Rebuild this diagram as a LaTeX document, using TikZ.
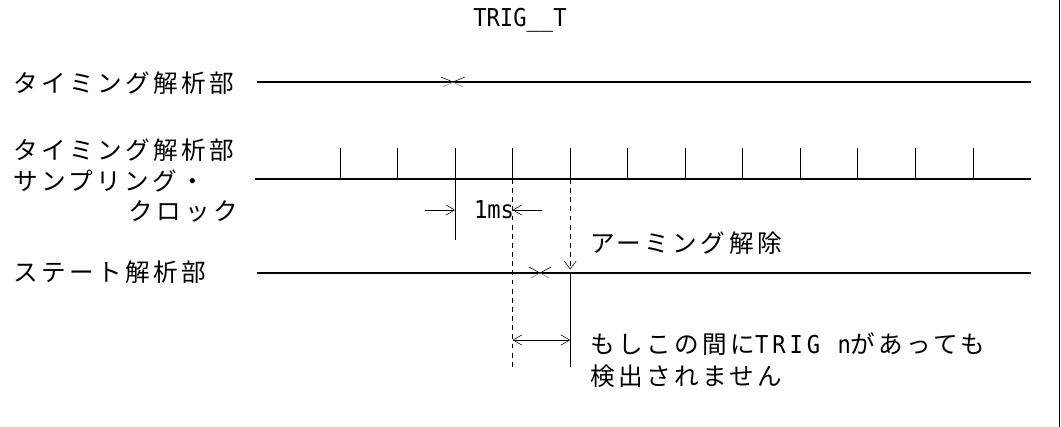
\documentclass[tikz,border=0pt]{standalone}
\usepackage{fontspec}
\newfontfamily\jpfont[LetterSpace=14]{Noto Sans CJK JP}
\newfontfamily\latfont[FakeStretch=0.9]{DejaVu Sans Mono}
\newfontfamily\latwide[FakeStretch=0.9,LetterSpace=16]{DejaVu Sans Mono}
\usetikzlibrary{arrows.meta}

\tikzset{
  sig/.style={line width=1pt},
  lbl/.style={font=\jpfont\fontsize{17.5}{20}\selectfont, inner sep=0pt},
  lat/.style={font=\latfont\fontsize{17.5}{20}\selectfont, inner sep=0pt},
  barb/.style={-{Straight Barb[length=2.2mm,width=2.6mm]}, thin},
  guide/.style={thin, dash pattern=on 3.5pt off 3pt},
}

\begin{document}
\begin{tikzpicture}[x=0.025cm,y=-0.025cm]
  \useasboundingbox (0,0) rectangle (1061,427);
  \draw[thin] (1059,0) -- (1059,427);

  \node[lat] (title) at (520,20) {TRIG\_\_T};

  % timing analyser
  \node[lbl, anchor=west] (tlabel) at (13,83) {タイミング解析部};
  \coordinate (t0) at (257,82);
  \coordinate (t1) at (1031,82);
  \draw[sig] (t0) -- (t1);
  \coordinate (trig) at (453,82);
  \draw[thin] (trig) +(-12,-5) -- (trig) -- +(12,-5);
  \draw[thin, gray] (trig) +(-10,5) -- (trig) -- +(10,5);

  % sampling clock
  \node[lbl, anchor=west] (slabel1) at (13,150) {タイミング解析部};
  \node[lbl, anchor=west] (slabel2) at (13,181) {サンプリング・};
  \node[lbl, anchor=east] (slabel3) at (238,211) {クロック};
  \coordinate (s0) at (255,179);
  \coordinate (s1) at (1031,179);
  \draw[sig] (s0) -- (s1);
  \foreach \i in {0,...,11}
    \draw[line width=0.7pt] (340+57.55*\i,179) coordinate (c\i) -- +(0,-31);
  \draw[line width=0.7pt] (c2) -- ++(0,61);

  % 1ms
  \node[lat] (ms) at (494,210) {1ms};
  \draw[barb] (425,210) -- (c2 |- ms);
  \draw[barb] (542,210) -- (c3 |- ms);

  \draw[guide] (c3) -- ++(0,189);
  \draw[guide] (c4) -- ++(0,89);

  % state analyser
  \node[lbl, anchor=west] (stlabel) at (13,272) {ステート解析部};
  \coordinate (st0) at (257,273);
  \coordinate (st1) at (1031,273);
  \draw[sig] (st0) -- (st1);
  \coordinate (strig) at (540,273);
  \draw[thin] (strig) +(-11,-6) -- (strig) -- +(11,-6);
  \draw[thin, gray] (strig) +(-9,5) -- (strig) -- +(9,5);
  \coordinate (arm) at (c4 |- st0);
  \draw[thin] (arm) +(-6,-12) -- +(0,-4) -- +(6,-12);
  \draw[line width=0.7pt] (arm) -- ++(0,94);

  \coordinate (gapL) at (c3 |- 0,340);
  \coordinate (gapR) at (c4 |- 0,340);
  \draw[thin, {Straight Barb[length=2.2mm,width=2.6mm]}-{Straight Barb[length=2.2mm,width=2.6mm]}] (gapL) -- (gapR);

  \node[lbl, anchor=west] (armtext) at (590,243) {アーミング解除};
  \node[lbl, anchor=west] (note1) at (590,344) {もしこの間に{\latwide TRIG n}があっても};
  \node[lbl, anchor=west] (note2) at (590,376) {検出されません};
\end{tikzpicture}
\end{document}
